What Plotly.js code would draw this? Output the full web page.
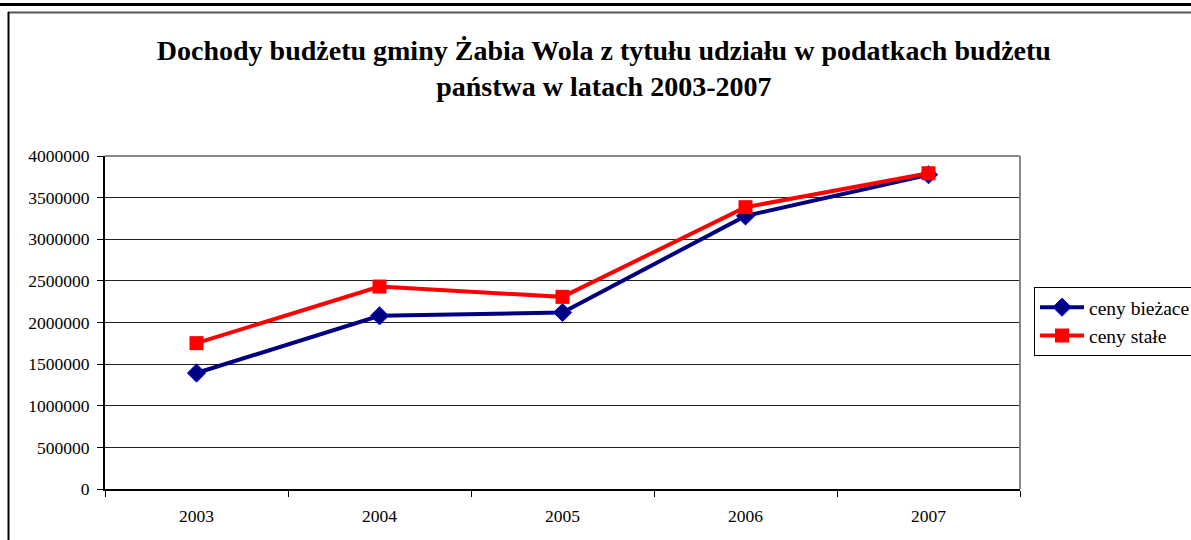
<!DOCTYPE html>
<html>
<head>
<meta charset="utf-8">
<script src="https://cdn.plot.ly/plotly-3.0.1.min.js"></script>
<style>html,body{margin:0;padding:0;background:#fff;}#chart{width:1191px;height:540px;}</style>
</head>
<body>
<div id="chart"></div>
<script>
const years = ['2003', '2004', '2005', '2006', '2007'];
const cenyBiezace = [1393000, 2080000, 2120000, 3280000, 3775000];
const cenyStale = [1752000, 2432000, 2308000, 3385000, 3793000];
const yTicks = [0, 500000, 1000000, 1500000, 2000000, 2500000, 3000000, 3500000, 4000000];
const titleText = 'Dochody budżetu gminy Żabia Wola z tytułu udziału w podatkach budżetu<br>państwa w latach 2003-2007';
const seriesNames = ['ceny bieżace', 'ceny stałe'];

// plot area pixel geometry
const L = 105, R = 1020, T = 156, B = 489, W = 1191, H = 540;
const px = x => (x - L) / (R - L);
const py = y => (B - y) / (B - T);

const serif = 'Liberation Serif, Times New Roman, serif';

const traces = [
  {
    x: years, y: cenyBiezace, name: seriesNames[0], type: 'scatter', mode: 'lines+markers',
    line: {color: '#000080', width: 4},
    marker: {symbol: 'diamond', size: 14, color: '#000080', line: {color: '#0000ff', width: 1}}
  },
  {
    x: years, y: cenyStale, name: seriesNames[1], type: 'scatter', mode: 'lines+markers',
    line: {color: '#ff0000', width: 4},
    marker: {symbol: 'square', size: 14, color: '#ff0000', line: {color: '#ff0000', width: 0}}
  }
];

const layout = {
  width: W, height: H,
  margin: {l: L, r: W - R, t: T, b: H - B, autoexpand: false},
  paper_bgcolor: '#fff', plot_bgcolor: '#fff',
  font: {family: serif, size: 17, color: '#000'},
  title: {
    text: titleText,
    font: {family: serif, size: 28, color: '#000', weight: 'bold'},
    xref: 'container', x: 0.507, xanchor: 'center',
    yref: 'container', y: 1 - 60 / H, yanchor: 'top'
  },
  xaxis: {
    type: 'category', range: [-0.5, 4.5],
    tickson: 'boundaries', ticks: 'outside', ticklen: 6, tickcolor: '#000', tickwidth: 1,
    showline: true, linecolor: '#000', linewidth: 2,
    showgrid: false, zeroline: false, ticklabelstandoff: 10,
    tickfont: {family: serif, size: 17.5, color: '#000'}
  },
  yaxis: {
    range: [0, 4000000], tickvals: yTicks, ticktext: yTicks.map(String),
    ticks: 'outside', ticklen: 6, tickcolor: '#000', tickwidth: 1,
    showline: true, linecolor: '#000', linewidth: 2,
    showgrid: true, gridcolor: '#222', gridwidth: 1,
    zeroline: false, ticklabelstandoff: 4,
    tickfont: {family: serif, size: 17.5, color: '#000'}
  },
  legend: {
    x: px(1034), xanchor: 'left', y: py(287), yanchor: 'top',
    bordercolor: '#000', borderwidth: 1, bgcolor: '#fff',
    font: {family: serif, size: 19.5, color: '#000'},
    tracegroupgap: 0, itemwidth: 44
  },
  showlegend: true,
  shapes: [
    {type: 'line', xref: 'paper', yref: 'paper', x0: 0, x1: 1, y0: 1, y1: 1, line: {color: '#888', width: 2}},
    {type: 'line', xref: 'paper', yref: 'paper', x0: 1, x1: 1, y0: 0, y1: 1, line: {color: '#888', width: 2}},
    {type: 'line', xref: 'paper', yref: 'paper', x0: px(0), x1: px(W), y0: py(4.5), y1: py(4.5), line: {color: '#000', width: 3}},
    {type: 'line', xref: 'paper', yref: 'paper', x0: px(8), x1: px(W), y0: py(12.5), y1: py(12.5), line: {color: '#555', width: 2}},
    {type: 'line', xref: 'paper', yref: 'paper', x0: px(8.5), x1: px(8.5), y0: py(12), y1: py(H), line: {color: '#000', width: 2}}
  ]
};

Plotly.newPlot('chart', traces, layout, {displayModeBar: false, staticPlot: true});
</script>
</body>
</html>
